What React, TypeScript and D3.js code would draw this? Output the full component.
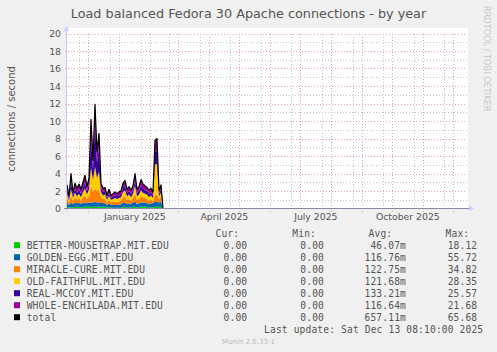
import * as d3 from "d3";
import React from "react";

const W = 497;
const H = 352;

const title = "Load balanced Fedora 30 Apache connections - by year";
const yLabel = "connections / second";

// legend rows (last one is the total line)
const legendNames = [
  "BETTER-MOUSETRAP.MIT.EDU",
  "GOLDEN-EGG.MIT.EDU",
  "MIRACLE-CURE.MIT.EDU",
  "OLD-FAITHFUL.MIT.EDU",
  "REAL-MCCOY.MIT.EDU",
  "WHOLE-ENCHILADA.MIT.EDU",
  "total",
];
const legendColors = ["#00cc00", "#0066b3", "#ff8000", "#ffcc00", "#330099", "#990099", "#000000"];
const curVals = ["0.00", "0.00", "0.00", "0.00", "0.00", "0.00", "0.00"];
const minVals = ["0.00", "0.00", "0.00", "0.00", "0.00", "0.00", "0.00"];
const avgVals = ["46.07m", "116.76m", "122.75m", "121.68m", "133.21m", "116.64m", "657.11m"];
const maxVals = ["18.12", "55.72", "34.82", "28.35", "25.57", "21.68", "65.68"];

// samples every 2 days from the start of the graph window
const betterMousetrap = [.2,.1,.2,.1,.2,.2,.2,.1,.2,.2,.2,.2,.2,.2,.2,.2,.2,.2,.2,.2,.1,.2,.1,.1,.1,.1,.1,.1,.2,.2,.1,.2,.1,.2,.2,.1,.2,.2,.2,.2,.2,.1,.2,.1,.2,.2,.2,.2,0];
const goldenEgg =       [.5,.3,.5,.4,.5,.4,.5,.4,.5,.5,.4,.5,.5,.5,.6,.5,.5,.5,.4,.4,.3,.4,.3,.3,.3,.3,.3,.4,.5,.5,.4,.4,.4,.5,.6,.4,.4,.5,.5,.5,.4,.4,.4,.5,.6,.6,.5,.6,0];
const miracleCure =     [.5,.3,.8,.4,.6,.4,.5,.4,.6,.8,.5,.7,2.0,1.2,1.5,1.3,1.5,.6,.5,.5,.3,.4,.3,.4,.4,.3,.4,.4,.6,.7,.5,.5,.4,.5,.9,.5,.5,.7,.6,.5,.5,.4,.4,.3,.8,.8,.4,.5,0];
const oldFaithful =     [.5,.2,.7,.3,.5,.4,.5,.4,.6,.8,.5,.8,2.0,1.4,2.5,1.5,2.0,.6,.4,.5,.3,.4,.3,.3,.4,.4,.4,.4,.6,.7,.4,.5,.4,.5,.9,.4,.5,.7,.5,.5,.5,.4,.5,.3,3.4,3.5,.3,.5,0];
const realMccoy =       [.5,.2,1.0,.3,.5,.4,.5,.4,.5,.7,.4,.6,3.5,1.2,5.0,1.8,2.8,.5,.4,.4,.2,.4,.2,.3,.3,.3,.3,.3,.5,.5,.4,.4,.4,.4,.6,.4,.4,.6,.5,.4,.4,.4,.4,.3,1.5,1.5,.3,.4,0];
const wholeEnchilada =  [.5,.3,.8,.3,.6,.5,.6,.5,.6,.8,.5,.7,2.0,1.0,2.1,1.2,1.6,.5,.4,.4,.3,.4,.3,.3,.4,.3,.4,.4,.5,.6,.4,.5,.4,.5,.8,.4,.5,.6,.5,.5,.4,.4,.4,.4,1.3,1.4,.4,.5,0];

const seriesValues = [betterMousetrap, goldenEgg, miracleCure, oldFaithful, realMccoy, wholeEnchilada];

const yTicks = [0, 2, 4, 6, 8, 10, 12, 14, 16, 18, 20];
const xLabelMonths = ["2025-01", "2025-04", "2025-07", "2025-10"];

const start = new Date(Date.UTC(2024, 10, 9, 16, 0));
const end = d3.utcDay.offset(start, 400);
const dates = betterMousetrap.map((_, i) => d3.utcDay.offset(start, 2 * i));

const sans = "'DejaVu Sans', sans-serif";
const mono = "'DejaVu Sans Mono', monospace";
const textCol = "#555";
const majorCol = "#f0a0a0";
const minorCol = "#c4c4c4";

export default function App() {
  const m = { left: 67, right: 467, top: 33.5, bottom: 208.5 };
  const x = d3.scaleUtc().domain([start, end]).range([m.left, m.right]);
  const y = d3.scaleLinear().domain([0, 20]).range([m.bottom, m.top]);
  const py = (v: number) => Math.round(y(v)) + 0.5;
  const px = (d: Date) => Math.round(x(d)) + 0.5;

  const keys = seriesValues.map((_, k) => "s" + k);
  const rows = dates.map((d, i) => {
    const r: any = { date: d };
    seriesValues.forEach((s, k) => (r["s" + k] = s[i]));
    r.total = d3.sum(seriesValues, s => s[i]);
    return r;
  });
  const stacked = d3.stack<any>().keys(keys)(rows);
  const area = d3.area<any>().x(d => x(d.data.date)).y0(d => y(d[0])).y1(d => y(d[1]));
  const totalLine = d3.line<any>().x(d => x(d.date)).y(d => y(d.total));

  const months = d3.utcMonth.range(d3.utcMonth.ceil(start), end);
  const minorX = months.map(mo => d3.utcDay.offset(mo, -9)).filter(d => d > start);
  const minorY = d3.range(1, 21, 2);

  const legendY = (i: number) => 248.7 + i * 12;

  return (
    <svg width={W} height={H} style={{ position: "absolute", left: 0, top: 0 }}>
      <rect width={W} height={H} fill="#f0f0f0" />
      <rect x={m.left} y={28} width={m.right - m.left + 1} height={m.bottom - 28} fill="#fff" />

      {/* minor grid */}
      {minorY.map(v => (
        <line key={"my" + v} x1={m.left} x2={m.right} y1={py(v)} y2={py(v)} stroke={minorCol} strokeDasharray="1,2" shapeRendering="crispEdges" />
      ))}
      {minorX.map(d => (
        <line key={"mx" + d.getTime()} x1={px(d)} x2={px(d)} y1={m.top} y2={m.bottom + 2} stroke={minorCol} strokeDasharray="1,2" shapeRendering="crispEdges" />
      ))}
      {/* major grid */}
      {yTicks.slice(1).map(v => (
        <line key={"Y" + v} x1={m.left - 2} x2={m.right} y1={py(v)} y2={py(v)} stroke={majorCol} strokeDasharray="1,2" shapeRendering="crispEdges" />
      ))}
      {months.map(d => (
        <line key={"X" + d.getTime()} x1={px(d)} x2={px(d)} y1={m.top} y2={m.bottom + 3} stroke={majorCol} strokeDasharray="1,2" shapeRendering="crispEdges" />
      ))}

      {/* stacked areas */}
      {stacked.map((s, k) => (
        <path key={s.key} d={area(s) ?? undefined} fill={legendColors[k]} />
      ))}
      <path d={totalLine(rows) ?? undefined} fill="none" stroke="#000" strokeWidth={1.2} strokeLinejoin="round" />

      {/* axes */}
      <line x1={m.left - 0.5} x2={m.left - 0.5} y1={m.bottom + 3} y2={28} stroke="#c8c8f0" />
      <path d={`M${m.left - 3.5},${31} L${m.left - 0.5},${26} L${m.left + 2.5},${31} Z`} fill="#c8d0ff" />
      <line x1={m.left - 3} x2={m.right + 2} y1={m.bottom} y2={m.bottom} stroke="#8888a0" />
      <path d={`M${m.right + 2},${m.bottom - 3} L${m.right + 7},${m.bottom} L${m.right + 2},${m.bottom + 3} Z`} fill="#c8d0ff" />

      {/* y tick labels */}
      {yTicks.map(v => (
        <text key={"yl" + v} x={61} y={y(v) + 3.5} textAnchor="end" fontFamily={sans} fontSize={9.3} fill={textCol}>{v}</text>
      ))}
      {/* x labels, centred in the month */}
      {xLabelMonths.map(s => {
        const mo = d3.utcParse("%Y-%m")(s)!;
        const mid = new Date((mo.getTime() + d3.utcMonth.offset(mo, 1).getTime()) / 2);
        return (
          <text key={s} x={x(mid)} y={220} textAnchor="middle" fontFamily={sans} fontSize={9.3} fill={textCol}>
            {d3.utcFormat("%B %Y")(mo)}
          </text>
        );
      })}

      <text x={248.5} y={18} textAnchor="middle" fontFamily={sans} fontSize={12.8} fill={textCol}>{title}</text>
      <text transform="translate(15,119) rotate(-90)" textAnchor="middle" fontFamily={sans} fontSize={10} fill={textCol}>{yLabel}</text>
      <text transform="translate(484,6) rotate(90)" fontFamily={sans} fontSize={8.2} fill="#c8c8c8">RRDTOOL / TOBI OETIKER</text>

      {/* legend */}
      <g fontFamily={mono} fontSize={9.6} fill={textCol} letterSpacing={0.15}>
        <text x={239.3} y={237.3} textAnchor="end">Cur:</text>
        <text x={316} y={237.3} textAnchor="end">Min:</text>
        <text x={392.3} y={237.3} textAnchor="end">Avg:</text>
        <text x={469.3} y={237.3} textAnchor="end">Max:</text>
        {legendNames.map((name, i) => (
          <g key={name}>
            <rect x={14} y={legendY(i) - 6.5} width={6} height={6} fill={legendColors[i]} />
            <text x={26.7} y={legendY(i)}>{name}</text>
            <text x={247.3} y={legendY(i)} textAnchor="end">{curVals[i]}</text>
            <text x={324} y={legendY(i)} textAnchor="end">{minVals[i]}</text>
            <text x={406} y={legendY(i)} textAnchor="end">{avgVals[i]}</text>
            <text x={477.3} y={legendY(i)} textAnchor="end">{maxVals[i]}</text>
          </g>
        ))}
        <text x={483.3} y={333.3} textAnchor="end">Last update:  Sat Dec 13 08:10:00 2025</text>
      </g>
      <text x={248.5} y={344} textAnchor="middle" fontFamily={sans} fontSize={7} fill="#bbb">Munin 2.0.33-1</text>
    </svg>
  );
}
